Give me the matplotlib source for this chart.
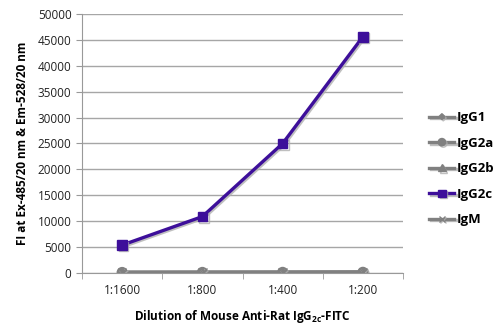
import numpy as np
import matplotlib
matplotlib.use("Agg")
import matplotlib.pyplot as plt
import matplotlib.patheffects as pe

plt.rcParams['font.family'] = ['Open Sans', 'DejaVu Sans']

dilutions = ['1:1600', '1:800', '1:400', '1:200']
igg1 = [150, 160, 170, 180]
igg2a = [120, 130, 140, 150]
igg2b = [110, 120, 130, 140]
igg2c = [5400, 10900, 25000, 45600]
igm = [130, 140, 150, 200]

series = [
    ('IgG1', igg1, 'D', '#808080', 4),
    ('IgG2a', igg2a, 'o', '#808080', 7),
    ('IgG2b', igg2b, '^', '#808080', 7),
    ('IgG2c', igg2c, 's', '#3d0f9a', 7),
    ('IgM', igm, 'x', '#808080', 6),
]

fig = plt.figure(figsize=(5, 3.31), dpi=100)
ax = fig.add_axes([0.164, 0.175, 0.642, 0.783])

x = np.arange(len(dilutions))
shadow = [pe.SimpleLineShadow(offset=(1, -1), shadow_color='#b0b0b0', alpha=0.8), pe.Normal()]
handles = []
for name, vals, mk, col, ms in series:
    h, = ax.plot(x, vals, color=col, lw=2.4, marker=mk, markersize=ms,
                 markeredgecolor=col, markerfacecolor=col, label=name,
                 path_effects=shadow, zorder=3 if name != 'IgG2c' else 4)
    handles.append(h)

ax.set_xlim(-0.5, 3.5)
ax.set_ylim(0, 50000)
ax.set_yticks(np.arange(0, 50001, 5000))
ax.set_xticks(x)
ax.set_xticklabels(dilutions)
ax.set_xticks(np.arange(-0.5, 3.6, 1), minor=True)
ax.tick_params(axis='x', which='major', length=0, pad=8, labelsize=8.5, colors='#222222')
ax.tick_params(axis='x', which='minor', length=4, color='#999999', direction='out')
ax.tick_params(axis='y', length=4, color='#999999', labelsize=8.5, labelcolor='#222222')
ax.grid(axis='y', color='#a6a6a6', lw=1)
ax.set_axisbelow(True)
for s in ['top', 'right']:
    ax.spines[s].set_visible(False)
ax.spines['left'].set_color('#999999')
ax.spines['bottom'].set_color('#999999')

ax.set_ylabel('FI at Ex-485/20 nm & Em-528/20 nm', fontsize=8.5, fontweight='bold', labelpad=6)
ax.set_xlabel('Dilution of Mouse Anti-Rat IgG$_{\\mathregular{2c}}$-FITC', fontsize=8.5, fontweight='bold', labelpad=8)

fig.legend(handles=handles, loc='center left', bbox_to_anchor=(0.835, 0.49),
           frameon=False, prop={'weight': 'bold', 'size': 9.5}, markerscale=0.75,
           handlelength=1.9, handletextpad=0.2, labelspacing=0.95)

fig.savefig('out.png', dpi=100)
